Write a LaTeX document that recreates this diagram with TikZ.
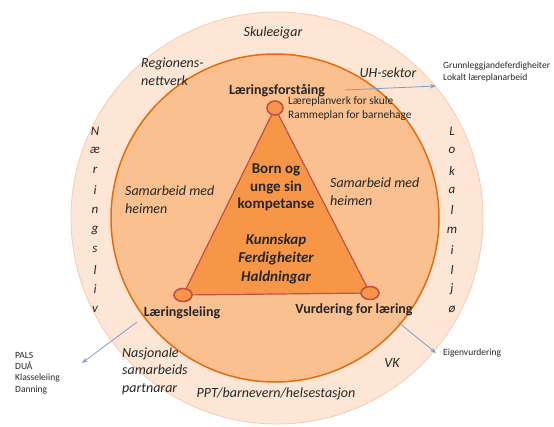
\documentclass[tikz,border=0pt]{standalone}
\usepackage{fontspec}
\setmainfont{Carlito}
\usetikzlibrary{arrows.meta,shapes.geometric}

\definecolor{ringfill}{HTML}{FDE6D5}
\definecolor{ringline}{HTML}{F8CBAD}
\definecolor{discfill}{HTML}{FAC090}
\definecolor{discline}{HTML}{E46C0A}
\definecolor{trifill}{HTML}{F79646}
\definecolor{triline}{HTML}{C0504D}
\definecolor{linkblue}{HTML}{7F9DC9}
\definecolor{txt}{HTML}{262626}

\tikzset{
  ringtext/.style = {font=\fontsize{14}{18}\selectfont\itshape, text=txt, inner sep=0pt},
  sidetext/.style = {ringtext, align=left, anchor=west},
  letter/.style   = {font=\fontsize{13}{14}\selectfont\itshape, text=txt, inner sep=0pt},
  corner/.style   = {font=\fontsize{14}{16}\selectfont\bfseries, text=txt, inner sep=0pt},
  core/.style     = {font=\fontsize{15}{17.5}\selectfont\bfseries, text=txt, align=center, inner sep=0pt},
  note/.style     = {font=\fontsize{9.5}{11.3}\selectfont, text=txt, align=left, anchor=west, inner sep=0pt},
  plan/.style     = {font=\fontsize{11.4}{14}\selectfont, text=txt, align=left, anchor=west, inner sep=0pt},
  vertex/.style   = {ellipse, draw=triline, line width=1.6pt, fill=trifill, minimum width=18pt, minimum height=13pt, inner sep=0pt},
  link/.style     = {draw=linkblue, line width=0.8pt, -{Stealth[length=6pt,width=4.5pt]}}
}

\begin{document}
\begin{tikzpicture}[x=1pt, y=-1pt]
  \useasboundingbox (0,0) rectangle (554,426);

  % rings
  \fill[ringfill, draw=ringline, line width=0.8pt] (277,218) circle [radius=206pt];
  \fill[discfill, draw=discline, line width=1.5pt] (275,218) circle [radius=164pt];

  % triangle
  \coordinate (ptop)   at (275,108);
  \coordinate (pleft)  at (183,295);
  \coordinate (pright) at (370,293);
  \filldraw[fill=trifill, draw=triline, line width=1.2pt] (ptop) -- (pleft) -- (pright) -- cycle;
  \node[vertex, minimum width=16pt, minimum height=14pt] (vtop) at (ptop) {};
  \node[vertex] (vleft)  at (pleft)  {};
  \node[vertex] (vright) at (pright) {};

  % inside the triangle
  \node[core] (born) at (276,187.5) {Born og\\unge sin\\kompetanse};
  \node[core, font=\fontsize{15}{18.5}\selectfont\bfseries\itshape] (kunn) at (276,258.5) {Kunnskap\\Ferdigheiter\\Haldningar};

  % corners
  \node[corner] (forst)  at (277,91)  {Læringsforståing};
  \node[corner] (leiing) at (182,313) {Læringsleiing};
  \node[corner] (vurd)   at (354,310) {Vurdering for læring};
  \node[plan] (plan) at (288,109) {Læreplanverk for skule\\Rammeplan for barnehage};

  % inner circle
  \node[sidetext] (heimv) at (125,200) {Samarbeid med\\heimen};
  \node[sidetext] (heimh) at (330,192) {Samarbeid med\\heimen};

  % outer ring
  \node[ringtext] (eigar) at (273,33)  {Skuleeigar};
  \node[sidetext] (region) at (141,72) {Regionens-\\nettverk};
  \node[ringtext] (uh)    at (388,73)  {UH-sektor};
  \node[sidetext, font=\fontsize{14}{17.5}\selectfont\itshape] (nasj) at (122,371) {Nasjonale\\samarbeids\\partnarar};
  \node[ringtext] (vk)    at (392,363) {VK};
  \node[ringtext] (ppt)   at (276,394) {PPT/barnevern/helsestasjon};
  \foreach \c [count=\i] in {N,æ,r,i,n,g,s,l,i,v}
    \node[letter] (nl\i) at (95,{131+(\i-1)*19.8}) {\c};
  \foreach \c [count=\i] in {L,o,k,a,l,m,i,l,j,ø}
    \node[letter] (lm\i) at (452,{131+(\i-1)*19.8}) {\c};

  % notes outside
  \node[note] (grunn) at (443,72)  {Grunnleggjandeferdigheiter\\Lokalt læreplanarbeid};
  \node[note] (pals)  at (15,373)  {PALS\\DUÅ\\Klasseleiing\\Danning};
  \node[note] (eigen) at (443,353) {Eigenvurdering};

  \coordinate (a1) at (345,90);  \coordinate (b1) at (436,86);
  \coordinate (a2) at (137,322); \coordinate (b2) at (82,363);
  \coordinate (a3) at (398,322); \coordinate (b3) at (436,353);
  \draw[link] (a1) -- (b1);
  \draw[link] (a2) -- (b2);
  \draw[link] (a3) -- (b3);
\end{tikzpicture}
\end{document}
